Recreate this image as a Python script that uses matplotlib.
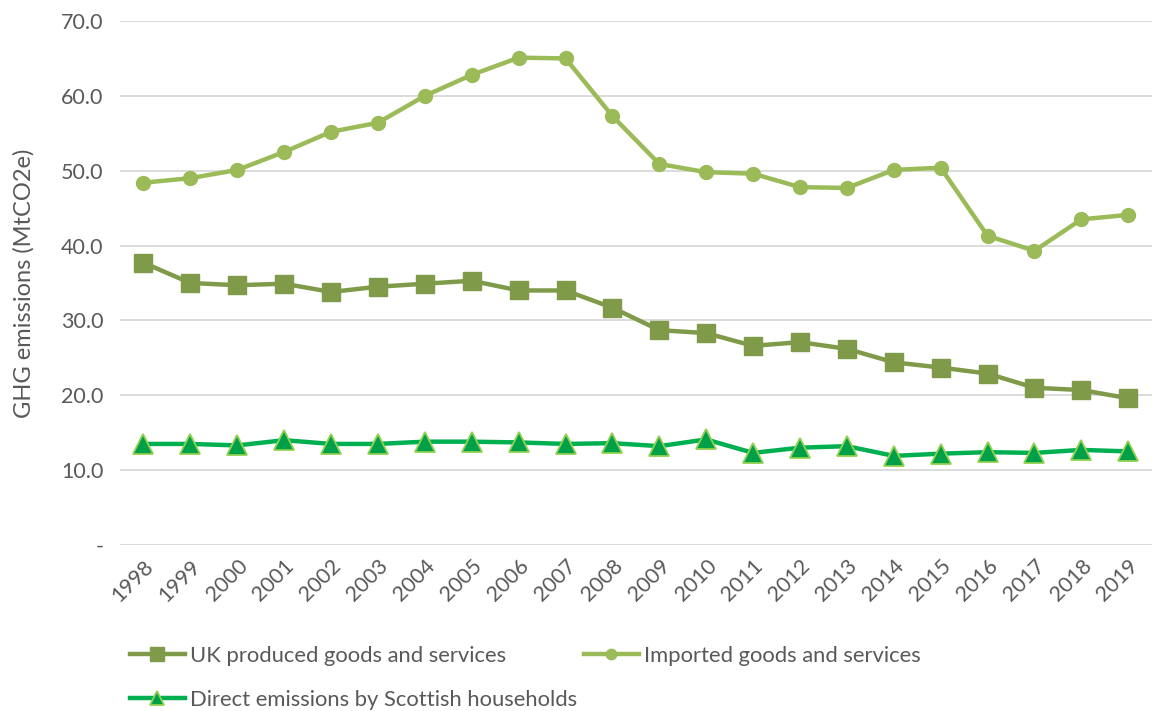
import matplotlib
matplotlib.use("Agg")
import matplotlib.pyplot as plt
from matplotlib.ticker import FixedLocator, FuncFormatter

years = [str(y) for y in range(1998, 2020)]
uk_produced = [37.7, 35.0, 34.7, 34.9, 33.8, 34.5, 34.9, 35.3, 34.0, 34.0, 31.7, 28.7,
               28.3, 26.6, 27.1, 26.2, 24.4, 23.7, 22.9, 21.0, 20.7, 19.6]
imported = [48.4, 49.0, 50.1, 52.5, 55.2, 56.4, 60.0, 62.8, 65.1, 65.0, 57.3, 50.9,
            49.8, 49.6, 47.8, 47.7, 50.1, 50.4, 41.3, 39.3, 43.5, 44.1]
direct = [13.5, 13.5, 13.3, 14.0, 13.5, 13.5, 13.8, 13.8, 13.7, 13.5, 13.6, 13.2,
          14.1, 12.3, 13.0, 13.2, 11.9, 12.2, 12.4, 12.3, 12.7, 12.5]
y_ticks = [0, 10, 20, 30, 40, 50, 60, 70]

plt.rcParams['font.family'] = ['Lato', 'DejaVu Sans']
txt = '#595959'

fig = plt.figure(figsize=(11.54, 7.11), dpi=100)
ax = fig.add_axes([0.104, 0.2335, 0.894, 0.737])
x = list(range(len(years)))

l1, = ax.plot(x, uk_produced, color='#7F9A48', lw=3.2, marker='s', markersize=13.5,
              markerfacecolor='#7F9A48', markeredgecolor='#7F9A48', label='UK produced goods and services', zorder=3)
l2, = ax.plot(x, imported, color='#9BBB59', lw=3.2, marker='o', markersize=10,
              markerfacecolor='#9BBB59', markeredgecolor='#9BBB59', label='Imported goods and services', zorder=3)
l3, = ax.plot(x, direct, color='#00B050', lw=3.2, marker='^', markersize=14,
              markerfacecolor='#00A048', markeredgecolor='#92D050', markeredgewidth=1.3,
              label='Direct emissions by Scottish households', zorder=3)

ax.set_xlim(-0.5, len(years) - 0.5)
ax.set_ylim(0, 70)
ax.yaxis.set_major_locator(FixedLocator(y_ticks))
ax.yaxis.set_major_formatter(FuncFormatter(lambda v, p: '-' if v == 0 else f'{v:.1f}'))
ax.set_xticks(x)
ax.set_xticklabels(years, rotation=45, ha='right', rotation_mode='anchor')
ax.grid(axis='y', color='#D9D9D9', lw=1.3)
ax.set_axisbelow(True)
for s in ax.spines.values():
    s.set_visible(False)
ax.tick_params(axis='both', length=0, labelsize=15.5, colors=txt)
ax.tick_params(axis='y', pad=12)
ax.tick_params(axis='x', pad=8)
ax.set_ylabel('GHG emissions (MtCO2e)', fontsize=17, color=txt)
ax.yaxis.set_label_coords(-0.083, 0.5)

leg = fig.legend(handles=[l1, l3, l2], loc='upper left',
                 bbox_to_anchor=(130 / 1154, 1 - 646 / 711), bbox_transform=fig.transFigure,
                 ncol=2, frameon=False, fontsize=15.8, labelcolor=txt, handlelength=2.5,
                 handletextpad=0.25, columnspacing=0.3, labelspacing=1.1, borderaxespad=0,
                 borderpad=0, markerscale=0.75)

fig.savefig('out.png', dpi=100)
